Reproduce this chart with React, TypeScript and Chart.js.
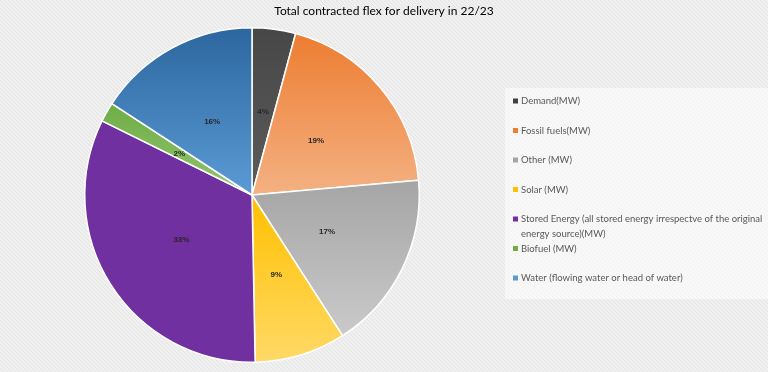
import React, { useEffect, useRef } from "react";
import { Chart, registerables } from "chart.js";

Chart.register(...registerables);

const TITLE = "Total contracted flex for delivery in 22/23";
const categories = [
  "Demand(MW)",
  "Fossil fuels(MW)",
  "Other (MW)",
  "Solar (MW)",
  "Stored Energy (all stored energy irrespectve of the original energy source)(MW)",
  "Biofuel (MW)",
  "Water (flowing water or head of water)",
];
const legendLines = [
  ["Demand(MW)"],
  ["Fossil fuels(MW)"],
  ["Other (MW)"],
  ["Solar (MW)"],
  ["Stored Energy (all stored energy irrespectve of the original", "energy source)(MW)"],
  ["Biofuel (MW)"],
  ["Water (flowing water or head of water)"],
];
const shares = [4.2, 19.4, 17.3, 8.8, 32.6, 1.9, 15.8];
const topColors = ["#474747", "#ED7D31", "#A5A5A5", "#FFC000", "#7030A0", "#70AD47", "#2C669E"];
const bottomColors = ["#5C5C5C", "#F4B183", "#CACACA", "#FFD966", "#7030A0", "#90C46C", "#5B9BD5"];
const markerColors = ["#404040", "#ED7D31", "#A5A5A5", "#FFC000", "#7030A0", "#70AD47", "#5B9BD5"];

const FONT = "Lato, 'Liberation Sans', sans-serif";

function norm(a: number) {
  const t = Math.PI * 2;
  return ((a % t) + t) % t;
}
function containsAngle(start: number, end: number, a: number) {
  const s = norm(start);
  const span = end - start;
  const d = norm(a - s);
  return d <= span;
}

const bgPlugin = {
  id: "bgPlugin",
  beforeDraw(chart: any) {
    const { ctx, width, height } = chart;
    ctx.save();
    ctx.fillStyle = "#f0f0f0";
    ctx.fillRect(0, 0, width, height);
    ctx.strokeStyle = "#e4e4e4";
    ctx.lineWidth = 1;
    for (let k = -height; k < width + height; k += 4) {
      ctx.beginPath();
      ctx.moveTo(k, 0);
      ctx.lineTo(k + height, height);
      ctx.stroke();
    }
    // legend box
    const lx = width - 263;
    ctx.fillStyle = "rgba(255,255,255,0.55)";
    ctx.fillRect(lx, 88, 263, 211);
    // title
    ctx.fillStyle = "#000000";
    ctx.font = `12px ${FONT}`;
    ctx.textAlign = "center";
    ctx.textBaseline = "middle";
    ctx.fillText(TITLE, width / 2, 11);
    // legend
    ctx.font = `9.5px ${FONT}`;
    ctx.textAlign = "left";
    let y = 101;
    legendLines.forEach((lines, i) => {
      ctx.fillStyle = markerColors[i];
      ctx.fillRect(lx + 8, y - 2.5, 5, 5);
      ctx.fillStyle = "#595959";
      lines.forEach((ln, j) => ctx.fillText(ln, lx + 16, y + j * 15));
      y += 29.5;
    });
    ctx.restore();
  },
  beforeDatasetsDraw(chart: any) {
    const { ctx } = chart;
    const meta = chart.getDatasetMeta(0);
    meta.data.forEach((arc: any, i: number) => {
      const { x, y, startAngle, endAngle, outerRadius } = arc.getProps(
        ["x", "y", "startAngle", "endAngle", "outerRadius"],
        true
      );
      const ys = [y, y + Math.sin(startAngle) * outerRadius, y + Math.sin(endAngle) * outerRadius];
      if (containsAngle(startAngle, endAngle, Math.PI / 2)) ys.push(y + outerRadius);
      if (containsAngle(startAngle, endAngle, -Math.PI / 2)) ys.push(y - outerRadius);
      const y0 = Math.min(...ys);
      const y1 = Math.max(...ys);
      const g = ctx.createLinearGradient(0, y0, 0, y1 + 0.01);
      g.addColorStop(0, topColors[i]);
      g.addColorStop(1, bottomColors[i]);
      arc.options.backgroundColor = g;
    });
  },
  afterDatasetsDraw(chart: any) {
    const { ctx } = chart;
    const meta = chart.getDatasetMeta(0);
    const total = shares.reduce((a, b) => a + b, 0);
    ctx.save();
    ctx.font = `bold 8px 'Liberation Sans', Arial, sans-serif`;
    ctx.fillStyle = "#262626";
    ctx.textAlign = "center";
    ctx.textBaseline = "middle";
    meta.data.forEach((arc: any, i: number) => {
      const { x, y, startAngle, endAngle, outerRadius } = arc.getProps(
        ["x", "y", "startAngle", "endAngle", "outerRadius"],
        true
      );
      const mid = (startAngle + endAngle) / 2;
      const r = outerRadius * 0.5;
      ctx.fillText(
        Math.round((shares[i] / total) * 100) + "%",
        x + Math.cos(mid) * r,
        y + Math.sin(mid) * r
      );
    });
    ctx.restore();
  },
};

export default function App() {
  const ref = useRef<HTMLCanvasElement>(null);
  useEffect(() => {
    document.body.style.margin = "0";
    const chart = new Chart(ref.current!, {
      type: "pie",
      data: {
        labels: categories,
        datasets: [
          {
            data: shares,
            backgroundColor: markerColors,
            borderColor: "#ffffff",
            borderWidth: 1.5,
          },
        ],
      },
      options: {
        animation: false,
        responsive: false,
        layout: { padding: { top: 27, bottom: 9, left: 84, right: 348 } },
        plugins: {
          legend: { display: false },
          title: { display: false },
          tooltip: { enabled: false },
        },
      },
      plugins: [bgPlugin],
    });
    return () => chart.destroy();
  }, []);
  return (
    <div style={{ width: 768, height: 372 }}>
      <canvas ref={ref} width={768} height={372} style={{ display: "block" }} />
    </div>
  );
}
